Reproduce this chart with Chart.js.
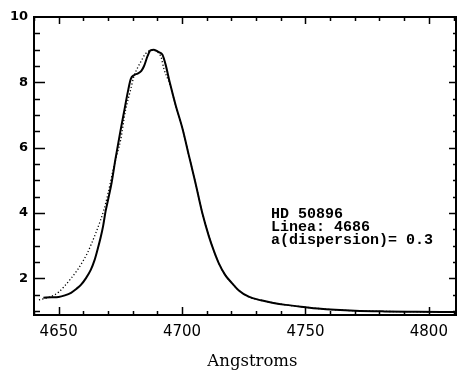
<!DOCTYPE html>
<html>
<head>
<meta charset="utf-8">
<script src="https://cdn.jsdelivr.net/npm/chart.js@4"></script>
<style>
  html, body { margin: 0; padding: 0; background: #fff; }
  canvas { display: block; }
</style>
</head>
<body>
<canvas id="specChart" width="459" height="370"></canvas>
<script>
// wavelength (Angstroms) and flux for the observed profile (solid)
const obsWave = [4643.8, 4647, 4650, 4652.5, 4655, 4657, 4659, 4661, 4663, 4664.5, 4665.7, 4667, 4668, 4669, 4670,
  4671.5, 4673, 4675, 4676.5, 4678, 4679.2, 4680.5, 4682, 4683.5, 4684.6, 4686, 4687.2, 4688.6, 4690.4, 4692,
  4693.3, 4695, 4697.4, 4700.1, 4702.8, 4705.5, 4708.2, 4710.9, 4713, 4714.9, 4717.5, 4720.3, 4723,
  4727, 4732, 4737, 4742, 4750, 4755, 4762, 4770, 4782, 4795, 4811];
const obsFlux = [1.41, 1.42, 1.43, 1.48, 1.56, 1.67, 1.80, 2.0, 2.26, 2.55, 2.87, 3.25, 3.6, 4.05, 4.4,
  4.95, 5.65, 6.5, 7.1, 7.7, 8.1, 8.22, 8.27, 8.35, 8.5, 8.8, 8.98, 9.0, 8.93, 8.85,
  8.55, 8.0, 7.3, 6.6, 5.75, 4.9, 4.0, 3.28, 2.82, 2.46, 2.1, 1.85, 1.63,
  1.44, 1.33, 1.25, 1.19, 1.12, 1.08, 1.04, 1.01, 0.99, 0.98, 0.97];

// fitted profile (dotted)
const fitWave = [4642, 4645, 4647, 4650, 4652.2, 4655, 4657.6, 4660, 4661.6, 4663.5, 4665, 4667, 4668.3, 4670,
  4672, 4674, 4675.1, 4677.1, 4679.1, 4680.4, 4682, 4683.2, 4685.2, 4687.9, 4690, 4691.5, 4692.7, 4695,
  4697.4, 4700.1, 4702.8, 4705.5, 4708.2, 4710.9, 4713, 4714.9, 4717.5, 4720.3, 4723,
  4727, 4732, 4737, 4742, 4750, 4755, 4762, 4770, 4782, 4795, 4811];
const fitFlux = [1.34, 1.40, 1.45, 1.58, 1.75, 2.0, 2.26, 2.55, 2.77, 3.1, 3.38, 3.79, 4.09, 4.6,
  5.3, 5.9, 6.23, 7.15, 7.76, 8.16, 8.45, 8.62, 8.88, 8.98, 8.93, 8.77, 8.4, 7.95,
  7.3, 6.6, 5.75, 4.9, 4.0, 3.28, 2.82, 2.46, 2.1, 1.85, 1.63,
  1.44, 1.33, 1.25, 1.19, 1.12, 1.08, 1.04, 1.01, 0.99, 0.98, 0.97];

const xTicks = [4650, 4700, 4750, 4800];
const yTicks = [2, 4, 6, 8, 10];
const xTitle = 'Angstroms';
const noteLines = ['HD 50896', 'Linea: 4686', 'a(dispersion)= 0.3'];

const toPoints = (xs, ys) => xs.map((x, i) => ({ x: x, y: ys[i] }));

// frame with inward ticks, plus the note and the x title
const framePlugin = {
  id: 'frame',
  afterDraw(chart) {
    const c = chart.ctx;
    const a = chart.chartArea;
    const xs = chart.scales.x, ys = chart.scales.y;
    c.save();
    c.strokeStyle = '#000';
    c.lineWidth = 2;
    c.strokeRect(a.left, a.top, a.right - a.left, a.bottom - a.top);

    c.lineWidth = 1.5;
    c.beginPath();
    for (let v = 4640; v <= 4810; v += 10) {
      const px = Math.round(xs.getPixelForValue(v)) + 0.5;
      const major = v % 50 === 0;
      c.moveTo(px, a.bottom); c.lineTo(px, a.bottom - (major ? 8 : 4));
      c.moveTo(px, a.top); c.lineTo(px, a.top + (major ? 7 : 4));
    }
    for (let v = 1; v <= 9.5; v += 0.5) {
      const py = Math.round(ys.getPixelForValue(v)) + 0.5;
      const major = v % 2 === 0;
      c.moveTo(a.left, py); c.lineTo(a.left + (major ? 11 : 6), py);
      c.moveTo(a.right, py); c.lineTo(a.right - (major ? 7 : 3), py);
    }
    c.stroke();

    c.fillStyle = '#000';
    c.textBaseline = 'alphabetic';
    c.font = 'bold 15px "Liberation Mono"';
    const nx = xs.getPixelForValue(4736);
    noteLines.forEach((t, i) => c.fillText(t, nx, 218 + i * 12.8));

    c.font = '16.5px "DejaVu Serif"';
    c.textAlign = 'center';
    c.fillText(xTitle, xs.getPixelForValue(4728.5), 366);
    c.restore();
  }
};

new Chart(document.getElementById('specChart'), {
  type: 'line',
  data: {
    datasets: [
      {
        label: 'observed',
        data: toPoints(obsWave, obsFlux),
        borderColor: '#000',
        borderWidth: 2,
        pointRadius: 0,
        cubicInterpolationMode: 'monotone',
        fill: false
      },
      {
        label: 'fit',
        data: toPoints(fitWave, fitFlux),
        borderColor: '#000',
        borderWidth: 1.3,
        borderDash: [1.2, 2.2],
        pointRadius: 0,
        cubicInterpolationMode: 'monotone',
        fill: false
      }
    ]
  },
  options: {
    responsive: false,
    animation: false,
    devicePixelRatio: 1,
    layout: { padding: { top: 17, right: 3, left: 0, bottom: 0 } },
    plugins: { legend: { display: false }, tooltip: { enabled: false } },
    scales: {
      x: {
        type: 'linear',
        min: 4640,
        max: 4811,
        afterBuildTicks: s => { s.ticks = xTicks.map(v => ({ value: v })); },
        afterFit: s => { s.height = 55; },
        grid: { display: false, drawTicks: false },
        border: { display: false },
        ticks: {
          color: '#000',
          padding: 8,
          maxRotation: 0,
          callback: v => String(v),
          font: { family: 'DejaVu Sans', size: 15 }
        }
      },
      y: {
        min: 0.88,
        max: 10,
        afterBuildTicks: s => { s.ticks = yTicks.map(v => ({ value: v })); },
        afterFit: s => { s.width = 34; },
        grid: { display: false, drawTicks: false },
        border: { display: false },
        ticks: {
          color: '#000',
          padding: 6,
          font: { family: 'DejaVu Sans', size: 13, weight: 'bold' }
        }
      }
    }
  },
  plugins: [framePlugin]
});
</script>
</body>
</html>
